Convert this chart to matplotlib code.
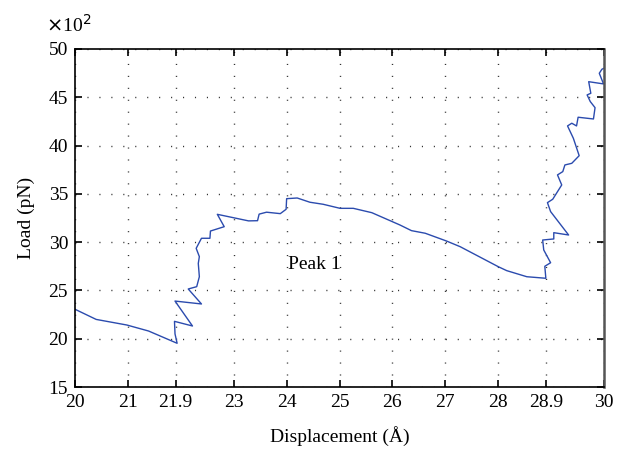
import numpy as np
import matplotlib
matplotlib.use("Agg")
import matplotlib.pyplot as plt

# displacement (angstrom) and load (pN)
displacement = [20.0, 20.40, 20.98, 21.39, 21.93, 21.89, 21.88, 22.22, 21.89, 22.39,
                22.14, 22.30, 22.35, 22.33, 22.35, 22.29, 22.39, 22.55, 22.56, 22.82,
                22.69, 23.28, 23.45, 23.48, 23.62, 23.88, 23.99, 24.0, 24.2, 24.44,
                24.69, 25.01, 25.26, 25.61, 26.14, 26.36, 26.62, 27.02, 27.28, 28.0,
                28.16, 28.54, 28.9, 28.88, 28.99, 28.86, 28.84, 29.05, 29.05, 29.33,
                28.99, 28.93, 29.03, 29.2, 29.12, 29.22, 29.26, 29.39, 29.53, 29.42,
                29.31, 29.39, 29.48, 29.51, 29.80, 29.83, 29.74, 29.68, 29.75, 29.71,
                29.99, 29.91, 29.96, 30.0]
load = [2305, 2200, 2142, 2080, 1953, 2050, 2180, 2132, 2390, 2360,
        2515, 2539, 2642, 2780, 2850, 2936, 3040, 3040, 3115, 3160,
        3288, 3220, 3222, 3290, 3310, 3295, 3340, 3450, 3457, 3413,
        3392, 3350, 3350, 3305, 3178, 3119, 3092, 3012, 2953, 2746,
        2705, 2642, 2626, 2750, 2787, 2919, 3022, 3033, 3098, 3074,
        3316, 3409, 3444, 3592, 3696, 3730, 3799, 3816, 3895, 4075,
        4203, 4231, 4203, 4293, 4275, 4392, 4455, 4524, 4541, 4661,
        4638, 4748, 4790, 4800]

xticks = [20, 21, 21.9, 23, 24, 25, 26, 27, 28, 28.9, 30]
xticklabels = ["20", "21", "21.9", "23", "24", "25", "26", "27", "28", "28.9", "30"]
yticks = [15, 20, 25, 30, 35, 40, 45, 50]

plt.rcParams['font.family'] = ['Liberation Serif', 'DejaVu Serif']
plt.rcParams['font.size'] = 14

fig = plt.figure(figsize=(6.17, 4.49), dpi=100)
ax = fig.add_axes([0.1216, 0.138, 0.8574, 0.753])

ax.plot(displacement, np.array(load) / 100.0, color='#2b4bae', lw=1.0)

ax.set_xlim(20, 30)
ax.set_ylim(15, 50)
ax.set_xticks(xticks)
ax.set_xticklabels(xticklabels)
ax.set_yticks(yticks)
ax.tick_params(direction='in', length=5, width=1.2, top=True, right=True, pad=5)
ax.grid(True, color='#333333', lw=1.0, linestyle=(0, (0.8, 7.8)))

for side in ['left', 'top', 'bottom']:
    ax.spines[side].set_linewidth(1.2)
ax.spines['right'].set_color('#555555')
ax.spines['right'].set_linewidth(1.8)

ax.set_xlabel("Displacement (Å)", labelpad=11)
ax.set_ylabel("Load (pN)", labelpad=10)
# exponent label in the corner, as the source plot has it
fig.text(46 / 617, 1 - 25 / 449, r"$\times$10$^2$", fontsize=14, va='center', ha='left')
ax.text(24.03, 27.64, "Peak 1", fontsize=14, va='center', ha='left')

fig.savefig("out.png", dpi=100)
